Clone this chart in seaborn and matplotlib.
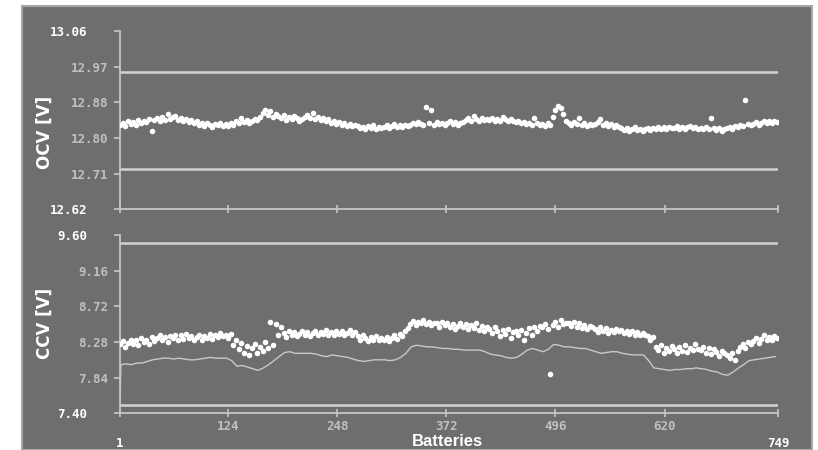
import numpy as np
import pandas as pd
import matplotlib
matplotlib.use("Agg")
import matplotlib.pyplot as plt
import matplotlib.transforms as mtransforms
from matplotlib import font_manager
from matplotlib.patches import Rectangle
import seaborn as sns

# ---- data ----
battery_ticks = [1, 124, 248, 372, 496, 620, 749]
dot_batteries = np.arange(1, 750, 3)          # every 3rd battery
trace_batteries = np.concatenate([[1], np.arange(2, 750, 6)])

ocv_limits = [12.72, 12.96]
ccv_limits = [7.50, 9.50]

ocv_values = [
    12.828, 12.834, 12.826, 12.838, 12.831, 12.836, 12.829, 12.840, 12.833, 12.837,
    12.835, 12.842, 12.812, 12.840, 12.846, 12.837, 12.849, 12.841, 12.855, 12.844,
    12.847, 12.851, 12.840, 12.846, 12.839, 12.843, 12.836, 12.841, 12.833, 12.838,
    12.829, 12.834, 12.826, 12.832, 12.828, 12.823, 12.831, 12.827, 12.833, 12.825,
    12.831, 12.826, 12.834, 12.829, 12.837, 12.832, 12.846, 12.835, 12.840, 12.834,
    12.838, 12.844, 12.841, 12.849, 12.858, 12.866, 12.852, 12.862, 12.847, 12.854,
    12.850, 12.845, 12.853, 12.840, 12.848, 12.843, 12.851, 12.846, 12.838, 12.844,
    12.849, 12.853, 12.845, 12.857, 12.843, 12.848, 12.841, 12.846, 12.838, 12.842,
    12.834, 12.839, 12.831, 12.835, 12.828, 12.833, 12.826, 12.830, 12.825, 12.829,
    12.826, 12.820, 12.824, 12.819, 12.825, 12.821, 12.827, 12.818, 12.823, 12.820,
    12.822, 12.827, 12.821, 12.826, 12.830, 12.823, 12.828, 12.824, 12.829, 12.826,
    12.828, 12.833, 12.830, 12.836, 12.831, 12.827, 12.872, 12.834, 12.866, 12.829,
    12.836, 12.830, 12.834, 12.828, 12.833, 12.838, 12.831, 12.835, 12.829, 12.834,
    12.836, 12.841, 12.845, 12.839, 12.850, 12.843, 12.838, 12.846, 12.841, 12.844,
    12.840, 12.846, 12.839, 12.844, 12.838, 12.848, 12.842, 12.837, 12.843, 12.839,
    12.835, 12.839, 12.832, 12.836, 12.830, 12.834, 12.829, 12.845, 12.833, 12.828,
    12.831, 12.826, 12.832, 12.828, 12.848, 12.866, 12.874, 12.869, 12.856, 12.838,
    12.834, 12.828, 12.836, 12.831, 12.845, 12.829, 12.833, 12.826, 12.831, 12.828,
    12.830, 12.835, 12.843, 12.829, 12.833, 12.826, 12.830, 12.823, 12.827, 12.822,
    12.821, 12.816, 12.820, 12.814, 12.819, 12.822, 12.815, 12.818, 12.813, 12.817,
    12.820, 12.816, 12.821, 12.818, 12.823, 12.817, 12.822, 12.819, 12.824, 12.820,
    12.821, 12.825, 12.819, 12.823, 12.818, 12.822, 12.826, 12.820, 12.824, 12.819,
    12.821, 12.817, 12.822, 12.818, 12.846, 12.820, 12.815, 12.821, 12.812, 12.819,
    12.820, 12.824, 12.819, 12.826, 12.822, 12.828, 12.825, 12.889, 12.830, 12.827,
    12.831, 12.835, 12.829, 12.834, 12.838, 12.832, 12.837, 12.834, 12.839, 12.835,
]

ccv_values = [
    8.25, 8.29, 8.22, 8.27, 8.31, 8.26, 8.30, 8.24, 8.33, 8.28,
    8.31, 8.26, 8.34, 8.29, 8.33, 8.36, 8.30, 8.34, 8.28, 8.35,
    8.33, 8.37, 8.31, 8.36, 8.32, 8.38, 8.33, 8.35, 8.30, 8.34,
    8.36, 8.31, 8.35, 8.33, 8.38, 8.32, 8.37, 8.34, 8.39, 8.35,
    8.36, 8.33, 8.38, 8.24, 8.31, 8.19, 8.27, 8.15, 8.23, 8.12,
    8.20, 8.26, 8.14, 8.22, 8.17, 8.28, 8.21, 8.53, 8.24, 8.50,
    8.36, 8.47, 8.39, 8.34, 8.41, 8.37, 8.40, 8.35, 8.38, 8.42,
    8.37, 8.40, 8.35, 8.39, 8.42, 8.36, 8.40, 8.38, 8.43, 8.37,
    8.40, 8.36, 8.41, 8.38, 8.42, 8.37, 8.39, 8.43, 8.36, 8.40,
    8.35, 8.31, 8.36, 8.33, 8.29, 8.34, 8.31, 8.35, 8.30, 8.33,
    8.31, 8.34, 8.29, 8.33, 8.36, 8.32, 8.38, 8.35, 8.41, 8.45,
    8.50, 8.54, 8.49, 8.53, 8.51, 8.55, 8.50, 8.53, 8.49, 8.52,
    8.51, 8.47, 8.53, 8.49, 8.52, 8.46, 8.50, 8.44, 8.48, 8.51,
    8.47, 8.50, 8.44, 8.49, 8.45, 8.51, 8.43, 8.48, 8.41, 8.46,
    8.44, 8.39, 8.46, 8.41, 8.35, 8.43, 8.38, 8.44, 8.33, 8.40,
    8.41, 8.36, 8.43, 8.30, 8.39, 8.45, 8.37, 8.47, 8.42, 8.48,
    8.46, 8.50, 8.44, 7.88, 8.49, 8.53, 8.47, 8.55, 8.50, 8.52,
    8.52, 8.48, 8.53, 8.47, 8.51, 8.45, 8.49, 8.44, 8.48, 8.46,
    8.44, 8.40, 8.46, 8.41, 8.45, 8.39, 8.43, 8.40, 8.44, 8.41,
    8.43, 8.39, 8.42, 8.38, 8.41, 8.37, 8.40, 8.36, 8.39, 8.37,
    8.35, 8.31, 8.34, 8.22, 8.18, 8.24, 8.15, 8.21, 8.17, 8.23,
    8.19, 8.14, 8.22, 8.17, 8.24, 8.16, 8.21, 8.18, 8.25, 8.19,
    8.18, 8.22, 8.15, 8.20, 8.13, 8.19, 8.16, 8.11, 8.17, 8.14,
    8.12, 8.08, 8.14, 8.06, 8.17, 8.22, 8.26, 8.21, 8.28, 8.25,
    8.29, 8.33, 8.27, 8.32, 8.36, 8.31, 8.34, 8.30, 8.35, 8.33,
]

# thin lower trace in the CCV panel
ccv_trace = [
    7.50,
    8.00, 8.01, 8.00, 8.02, 8.02, 8.04, 8.06, 8.07, 8.08, 8.08, 8.07, 8.08, 8.07,
    8.06, 8.06, 8.07, 8.08, 8.09, 8.08, 8.08, 8.08, 8.05, 7.98, 7.99, 7.97,
    7.95, 7.93, 7.96, 8.00, 8.05, 8.10, 8.15, 8.16, 8.14, 8.14, 8.14, 8.14,
    8.13, 8.11, 8.10, 8.12, 8.11, 8.10, 8.09, 8.07, 8.05, 8.04, 8.05, 8.06,
    8.06, 8.06, 8.05, 8.06, 8.09, 8.14, 8.22, 8.24, 8.23, 8.22, 8.22, 8.21,
    8.20, 8.20, 8.19, 8.19, 8.18, 8.18, 8.18, 8.18, 8.16, 8.13, 8.12, 8.11,
    8.09, 8.08, 8.09, 8.13, 8.18, 8.20, 8.18, 8.16, 8.19, 8.25, 8.24, 8.22,
    8.22, 8.21, 8.20, 8.20, 8.18, 8.16, 8.14, 8.15, 8.16, 8.16, 8.14, 8.13,
    8.12, 8.12, 8.12, 8.05, 7.96, 7.95, 7.94, 7.93, 7.94, 7.94, 7.95, 7.95,
    7.96, 7.95, 7.94, 7.92, 7.91, 7.88, 7.87, 7.91, 7.96, 8.00, 8.05, 8.06,
    8.07, 8.08, 8.09, 8.10,
]

ocv_ticks = np.linspace(12.62, 13.06, 6)
ccv_ticks = np.linspace(7.40, 9.60, 6)

# ---- style ----
bg = "#6e6e6e"
axis_col = "#c6c6c6"
label_col = "#c0c0c0"

sns.set_theme(style="dark", rc={"axes.facecolor": bg, "figure.facecolor": "white"})
plt.rcParams["font.family"] = ["DejaVu Sans Mono"]

# narrow font for the "Batteries" title if there is one
installed = {f.name for f in font_manager.fontManager.ttflist}
if "Liberation Sans Narrow" in installed:
    xlabel_font, xlabel_size = "Liberation Sans Narrow", 13
else:
    xlabel_font, xlabel_size = "Liberation Sans", 12

fig = plt.figure(figsize=(8.18, 4.5), dpi=100)
fig.patches.append(Rectangle((22 / 818, 0), 790 / 818, 444 / 450, transform=fig.transFigure,
                             facecolor=bg, edgecolor="#a6a6a6", lw=1.5, zorder=-1))

ax_top = fig.add_axes([120 / 818, 1 - 209.3 / 450, 658 / 818, 178.3 / 450])
ax_bot = fig.add_axes([120 / 818, 1 - 413.3 / 450, 658 / 818, 178.3 / 450])

ocv_df = pd.DataFrame({"battery": dot_batteries, "ocv": ocv_values})
ccv_df = pd.DataFrame({"battery": dot_batteries, "ccv": ccv_values})
trace_df = pd.DataFrame({"battery": trace_batteries, "ccv": ccv_trace})

sns.scatterplot(data=ocv_df, x="battery", y="ocv", ax=ax_top, color="white",
                s=16, linewidth=0, zorder=3)
sns.scatterplot(data=ccv_df, x="battery", y="ccv", ax=ax_bot, color="white",
                s=16, linewidth=0, zorder=3)
sns.lineplot(data=trace_df, x="battery", y="ccv", ax=ax_bot, color="#c8c8c8",
             lw=1.0, zorder=2)

for lim in ocv_limits:
    ax_top.axhline(lim, color="#d2d2d2", lw=1.8, zorder=1)
for lim in ccv_limits:
    ax_bot.axhline(lim, color="#d2d2d2", lw=1.8, zorder=1)

shift_left = mtransforms.ScaledTranslation(-0.21, 0, fig.dpi_scale_trans)
shift_down = mtransforms.ScaledTranslation(0, -0.17, fig.dpi_scale_trans)

for ax, ticks, lo, hi in [(ax_top, ocv_ticks, 12.62, 13.06), (ax_bot, ccv_ticks, 7.40, 9.60)]:
    ax.set_xlim(1, 749)
    ax.set_ylim(lo, hi)
    ax.set_facecolor(bg)
    ax.patch.set_alpha(0)
    ax.grid(False)
    for side in ["top", "right"]:
        ax.spines[side].set_visible(False)
    for side in ["left", "bottom"]:
        ax.spines[side].set_color(axis_col)
        ax.spines[side].set_linewidth(1.3)
    ax.set_yticks(ticks)
    ax.set_yticklabels([f"{t:.2f}" for t in ticks])
    ax.tick_params(axis="y", direction="out", length=4.5, width=1.2, color=axis_col,
                   labelcolor=label_col, labelsize=9, pad=4, left=True)
    ax.tick_params(axis="x", direction="inout", length=6, width=1.2, color=axis_col,
                   labelcolor=label_col, labelsize=9, pad=2, bottom=True)
    ax.set_xticks(battery_ticks)
    ax.set_xlabel("")
    ax.set_ylabel("")
    for lab in ax.get_yticklabels():
        lab.set_fontweight("bold")
    ylabs = ax.get_yticklabels()
    for lab in (ylabs[0], ylabs[-1]):
        lab.set_transform(lab.get_transform() + shift_left)
        lab.set_color("white")

ax_top.set_xticklabels([])
ax_bot.set_xticklabels([str(t) for t in battery_ticks])
xlabs = ax_bot.get_xticklabels()
for lab in xlabs:
    lab.set_fontweight("bold")
for lab in (xlabs[0], xlabs[-1]):
    lab.set_transform(lab.get_transform() + shift_down)
    lab.set_color("white")

fig.text(45 / 818, 1 - 132 / 450, "OCV [V]", rotation=90, ha="center", va="center",
         color="white", fontsize=12, fontweight="bold", family=["DejaVu Sans"])
fig.text(45 / 818, 1 - 323 / 450, "CCV [V]", rotation=90, ha="center", va="center",
         color="white", fontsize=12, fontweight="bold", family=["DejaVu Sans"])
fig.text(447 / 818, 1 - 442 / 450, "Batteries", ha="center", va="center",
         color="white", fontsize=xlabel_size, fontweight="bold",
         family=[xlabel_font, "DejaVu Sans"])

fig.savefig("out.png", dpi=100)
